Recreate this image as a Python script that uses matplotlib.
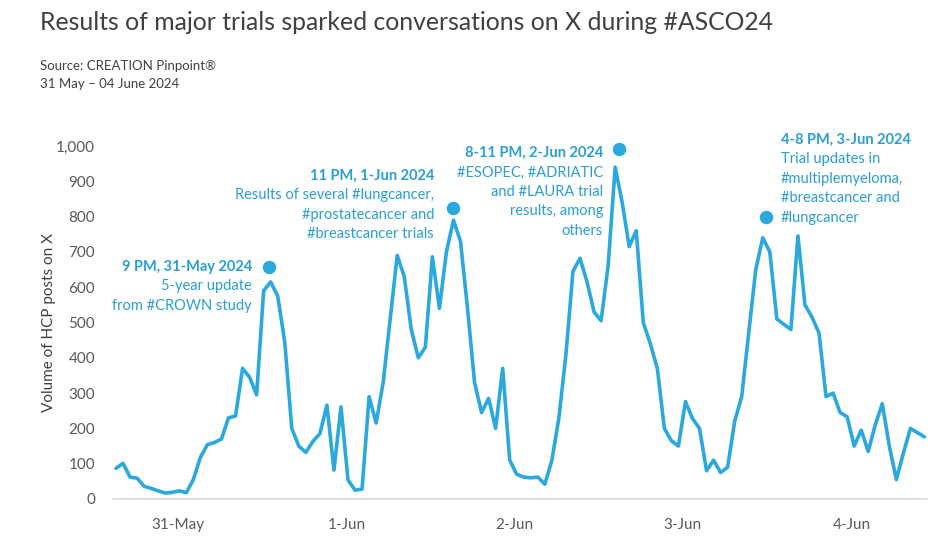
import numpy as np
import matplotlib.pyplot as plt

# hourly volume of HCP posts on X, 31 May - 04 June 2024
posts = [87, 101, 62, 59, 36, 30, 23, 17, 19, 23,
         18, 55, 118, 154, 160, 170, 230, 235, 370, 345,
         295, 590, 615, 575, 445, 200, 150, 132, 163, 185,
         266, 82, 261, 54, 25, 28, 290, 215, 330, 510,
         690, 630, 480, 400, 430, 686, 540, 700, 790, 730,
         540, 330, 245, 285, 200, 370, 110, 70, 62, 60,
         62, 42, 110, 230, 410, 645, 682, 615, 530, 505,
         660, 940, 840, 715, 760, 500, 440, 370, 200, 165,
         150, 276, 228, 200, 80, 110, 75, 90, 220, 290,
         470, 650, 740, 700, 510, 495, 480, 745, 550, 515,
         470, 290, 300, 245, 233, 150, 195, 135, 210, 270,
         150, 55, 130, 200, 188, 176]
hours = np.arange(len(posts))

day_labels = ['31-May', '1-Jun', '2-Jun', '3-Jun', '4-Jun']
day_pos = [8.8, 32.8, 56.7, 80.6, 104.6]

# highlighted peaks (hour index, value) and their notes
peak_hours = [21.7, 47.9, 71.5, 92.4]
peak_vals = [658, 825, 991, 798]
peak_heads = ['9 PM, 31-May 2024', '11 PM, 1-Jun 2024',
              '8-11 PM, 2-Jun 2024', '4-8 PM, 3-Jun 2024']
peak_notes = [['5-year update', 'from #CROWN study'],
              ['Results of several #lungcancer,', '#prostatecancer and',
               '#breastcancer trials'],
              ['#ESOPEC, #ADRIATIC', 'and #LAURA trial', 'results, among', 'others'],
              ['Trial updates in', '#multiplemyeloma,', '#breastcancer and',
               '#lungcancer']]

blue = '#2BA8DE'
txt_blue = '#2A9FD6'
grey = '#404040'
plt.rcParams['font.family'] = ['Lato', 'DejaVu Sans']

W, H = 941, 539
fig = plt.figure(figsize=(W / 100, H / 100), dpi=100)
ax = fig.add_axes([113 / W, (H - 499) / H, 814 / W, 353 / H])

ax.plot(hours, posts, color=blue, lw=2.6, solid_joinstyle='round',
        solid_capstyle='round', clip_on=False)
ax.scatter(peak_hours, peak_vals, s=75, color=blue, zorder=3, clip_on=False)

ax.set_xlim(-0.43, 115.36)
ax.set_ylim(0, 1000)
ax.set_yticks(range(0, 1001, 100))
ax.set_yticklabels([f'{v:,}' for v in range(0, 1001, 100)])
ax.set_xticks(day_pos)
ax.set_xticklabels(day_labels)
ax.tick_params(length=0, labelsize=11, labelcolor='#595959')
ax.tick_params(axis='y', pad=13)
ax.tick_params(axis='x', pad=14)
for s in ['top', 'right', 'left']:
    ax.spines[s].set_visible(False)
ax.spines['bottom'].set_color('#D9D9D9')
ax.spines['bottom'].set_linewidth(1.2)
ax.set_ylabel('Volume of HCP posts on X', fontsize=11, color='#404040', labelpad=0)

# annotation text blocks: (x px, first line y px, alignment)
blocks = [(252, 267, 'right'), (434, 176, 'right'), (603, 153, 'right'), (781, 140, 'left')]
step = 19.4
for (bx, by, ha), head, notes in zip(blocks, peak_heads, peak_notes):
    fig.text(bx / W, 1 - by / H, head, ha=ha, va='center', fontsize=10.5,
             fontweight='bold', color=txt_blue)
    for i, line in enumerate(notes):
        fig.text(bx / W, 1 - (by + step * (i + 1)) / H, line, ha=ha, va='center',
                 fontsize=10.5, color=txt_blue)

fig.text(40 / W, 1 - 22 / H, 'Results of major trials sparked conversations on X during #ASCO24',
         fontsize=17.8, color=grey, va='center')
fig.text(40 / W, 1 - 66 / H, 'Source: CREATION Pinpoint®', fontsize=9.5, color=grey, va='center')
fig.text(40 / W, 1 - 84 / H, '31 May – 04 June 2024', fontsize=9.5, color=grey, va='center')

fig.savefig('out.png', dpi=100)
